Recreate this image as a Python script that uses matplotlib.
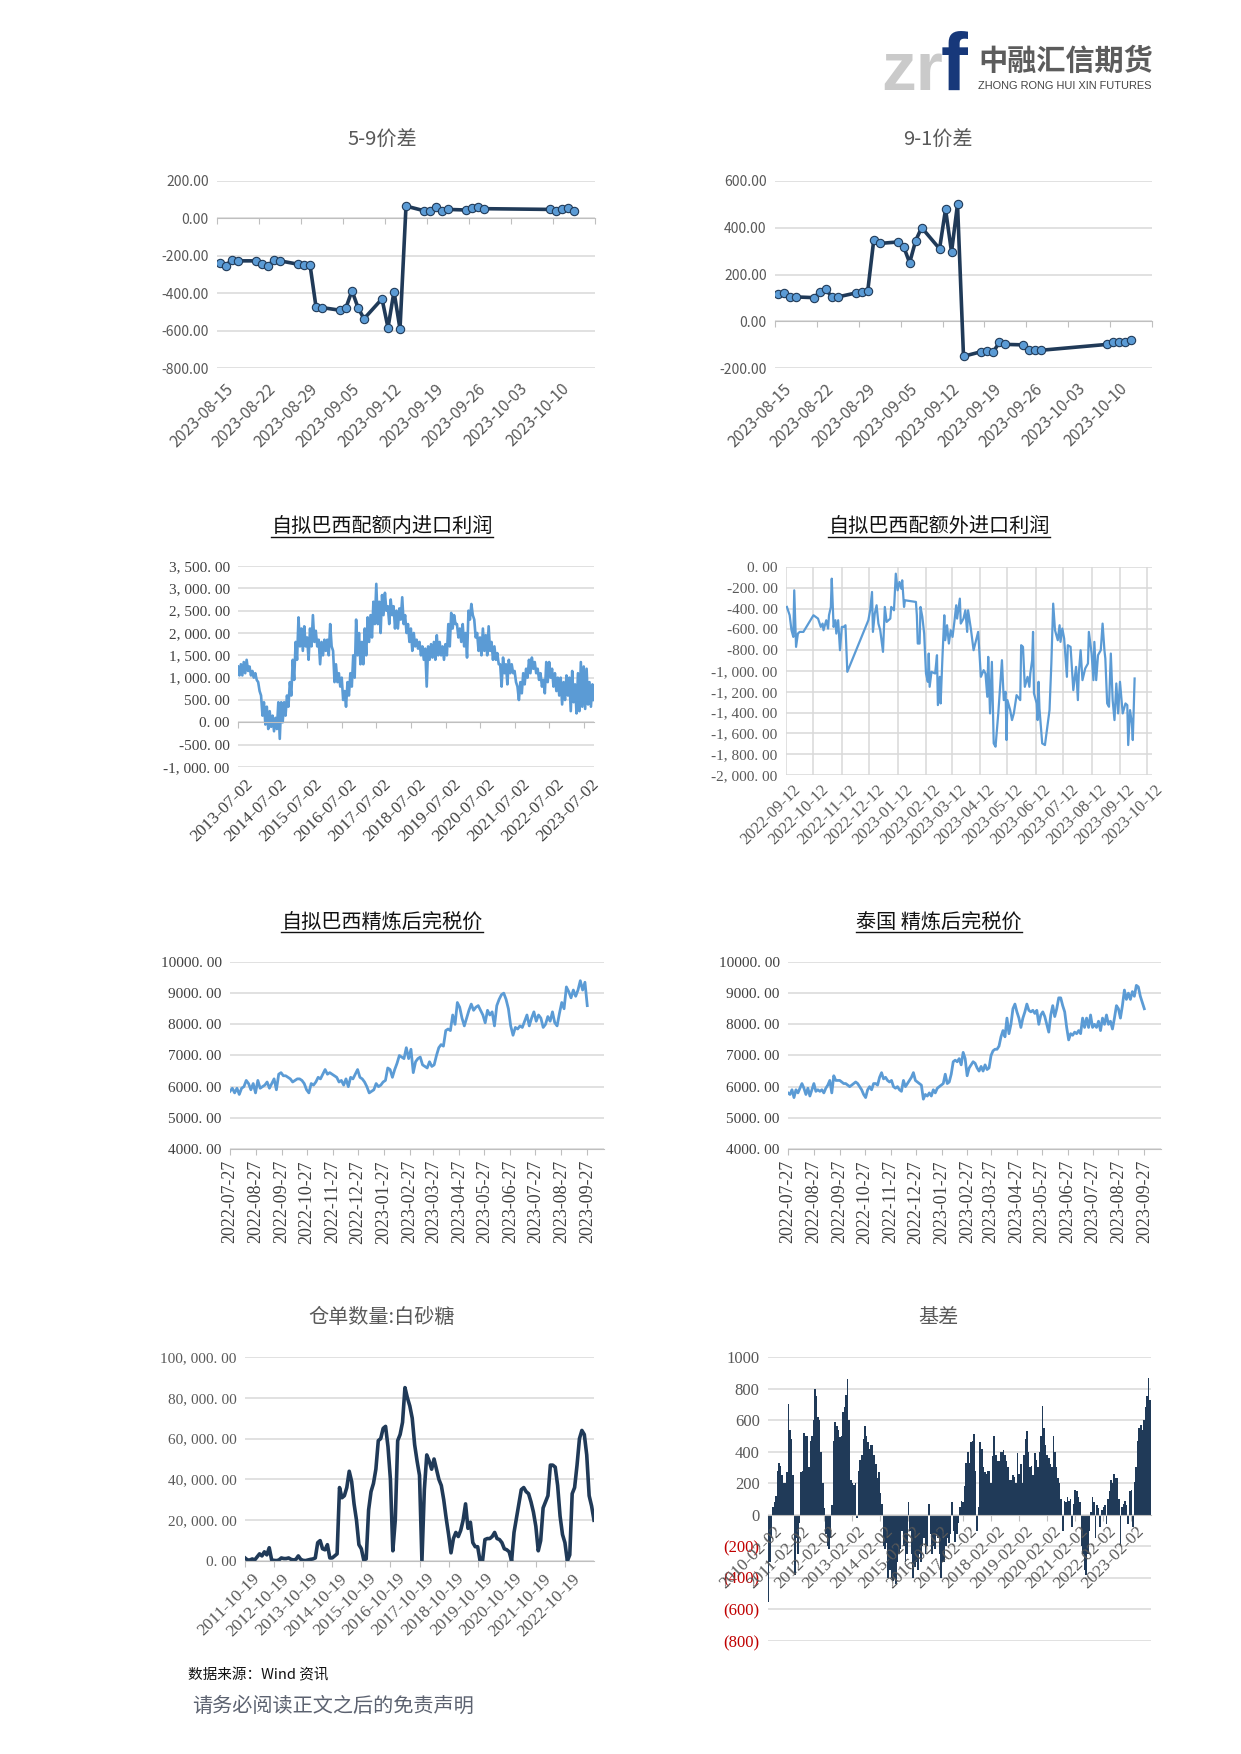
import numpy as np
import pandas as pd
import matplotlib
matplotlib.use('Agg')
import matplotlib.pyplot as plt
import matplotlib.dates as mdates
from matplotlib.lines import Line2D

plt.rcParams['font.family'] = ['Noto Sans CJK SC', 'DejaVu Sans']

# ---------------- data ----------------
spread_dates = ['2023-08-15', '2023-08-16', '2023-08-17', '2023-08-18',
                '2023-08-21', '2023-08-22', '2023-08-23', '2023-08-24', '2023-08-25',
                '2023-08-28', '2023-08-29', '2023-08-30', '2023-08-31', '2023-09-01',
                '2023-09-04', '2023-09-05', '2023-09-06', '2023-09-07', '2023-09-08',
                '2023-09-11', '2023-09-12', '2023-09-13', '2023-09-14', '2023-09-15',
                '2023-09-18', '2023-09-19', '2023-09-20', '2023-09-21', '2023-09-22',
                '2023-09-25', '2023-09-26', '2023-09-27', '2023-09-28',
                '2023-10-09', '2023-10-10', '2023-10-11', '2023-10-12', '2023-10-13']
spread_59 = [-237, -252, -220, -227, -227, -245, -255, -220, -227, -245, -248, -248, -473,
             -477, -491, -477, -387, -477, -537, -430, -584, -391, -591, 66, 41, 41, 62, 41,
             48, 45, 55, 62, 52, 48, 41, 48, 55, 41]
spread_91 = [116, 121, 104, 104, 101, 124, 136, 104, 104, 121, 127, 130, 347, 333, 339, 319,
             250, 344, 401, 310, 479, 296, 501, -150, -130, -127, -130, -90, -99, -101, -124,
             -124, -124, -99, -87, -87, -90, -79]
spread_ticks = ['2023-08-15', '2023-08-22', '2023-08-29', '2023-09-05', '2023-09-12',
                '2023-09-19', '2023-09-26', '2023-10-03', '2023-10-10']

# in-quota import profit, two readings (upper / lower edge of band) per month
quota_in_start, quota_in_end = '2013-07-02', '2023-10-13'
quota_in = [1250, 1050, 1300, 1050, 1350, 1100, 1400, 1150, 1250, 1050, 1150, 1000, 1100, 950,
            900, 700, 600, 150, 450, -50, 350, -150, 250, -100, 150, -200, 100, -150, 450, -370,
            450, 0, 450, 150, 600, 350, 900, 600, 1400, 950, 1800, 1400, 2350, 1700, 2100, 1600,
            2150, 1700, 1900, 1400, 2100, 1700, 2400, 1800, 2050, 1700, 1850, 1300, 1800, 1500,
            1850, 1600, 1850, 1500, 2200, 1700, 1600, 900, 1300, 900, 1100, 800, 1000, 500,
            700, 350, 900, 600, 1100, 800, 1500, 1000, 2300, 1500, 2000, 1300, 1800, 1300,
            2100, 1500, 2350, 1800, 2400, 1900, 2700, 2200, 3100, 2200, 2700, 2000, 2850, 2400,
            2900, 2500, 2600, 2200, 2750, 2400, 2600, 2100, 2500, 2100, 2550, 2300, 2800, 2200,
            2400, 2000, 2200, 1800, 2100, 1600, 2000, 1700, 1850, 1650, 1800, 1500, 1700, 1400,
            1650, 800, 1700, 1400, 1750, 1450, 1800, 1400, 1950, 1500, 1800, 1500, 1700, 1400,
            1750, 1500, 2200, 1700, 2450, 2100, 2400, 2200, 2200, 1900, 2100, 1800, 2200, 1700,
            2000, 1450, 2500, 2300, 2650, 2400, 2300, 1900, 2000, 1600, 1900, 1500, 2100, 1600,
            1950, 1500, 2150, 1600, 1800, 1400, 1700, 1400, 1550, 1300, 1300, 800, 1450, 1100,
            1300, 850, 1400, 1100, 1300, 1100, 1150, 900, 800, 500, 900, 650, 1100, 850,
            1200, 1000, 1400, 1100, 1450, 1200, 1350, 1100, 1200, 950, 1100, 800, 950, 650,
            1350, 900, 1350, 1000, 1200, 800, 1100, 700, 1000, 600, 1000, 400, 900, 500,
            1050, 600, 1000, 250, 1150, 450, 850, 200, 1100, 250, 1350, 350, 1250, 300,
            1200, 400, 900, 350, 850, 500]
quota_in_ticks = [f'{y}-07-02' for y in range(2013, 2024)]

# out-of-quota import profit: days after 2022-09-12 and values
quota_out_start = '2022-09-12'
quota_out_days = [1, 4, 6, 8, 9, 10, 11, 13, 15, 19, 30, 35, 38, 40, 41, 44, 46, 47, 49, 50,
                  52, 54, 55, 57, 59, 61, 63, 65, 67, 90, 92, 94, 95, 97, 99, 101, 103, 106,
                  108, 110, 114, 115, 118, 120, 122, 124, 126, 127, 129, 130, 142, 143, 144,
                  146, 147, 149, 151, 153, 155, 156, 157, 159, 163, 165, 166, 168, 169, 171,
                  173, 174, 176, 178, 180, 182, 184, 186, 187, 190, 191, 194, 196, 198, 199,
                  202, 205, 210, 213, 216, 218, 220, 221, 223, 225, 227, 229, 232, 236, 238,
                  240, 241, 242, 245, 247, 249, 252, 256, 257, 259, 261, 264, 266, 267, 269,
                  270, 271, 274, 275, 276, 277, 280, 283, 288, 290, 292, 294, 297, 299, 300,
                  302, 304, 307, 308, 311, 314, 317, 319, 320, 322, 324, 327, 330, 331, 334,
                  336, 337, 339, 341, 344, 346, 348, 349, 351, 353, 355, 357, 359, 361, 363,
                  365, 368, 371, 373, 374, 376, 378, 379, 381]
quota_out = [-384, -464, -608, -672, -224, -496, -768, -640, -624, -624, -464, -496, -576,
             -544, -608, -512, -592, -464, -384, -112, -576, -512, -640, -512, -800, -576,
             -576, -560, -1008, -512, -416, -240, -624, -448, -368, -544, -608, -816, -384,
             -528, -496, -384, -416, -64, -224, -144, -208, -128, -384, -320, -336, -464,
             -736, -736, -384, -480, -640, -1024, -1104, -832, -1152, -1008, -1024, -848,
             -1328, -1056, -1312, -864, -464, -704, -560, -736, -608, -672, -528, -368, -496,
             -304, -544, -496, -416, -624, -416, -592, -800, -624, -1056, -992, -1024, -1248,
             -864, -1408, -912, -1696, -1728, -1408, -896, -1280, -1200, -1664, -1280, -1376,
             -1472, -1408, -1232, -1280, -752, -768, -1152, -1056, -1152, -1024, -896, -624,
             -1216, -1312, -1472, -1104, -1360, -1696, -1712, -1376, -928, -352, -608, -704,
             -560, -720, -592, -688, -1056, -752, -768, -1184, -960, -1280, -1024, -800, -1088,
             -976, -928, -624, -832, -1088, -720, -1088, -848, -800, -544, -800, -880, -1312,
             -1344, -832, -1280, -1472, -1120, -1408, -1104, -1408, -1312, -1328, -1712, -1376,
             -1504, -1664, -1072]
quota_out_ticks = ['2022-09-12', '2022-10-12', '2022-11-12', '2022-12-12', '2023-01-12',
                   '2023-02-12', '2023-03-12', '2023-04-12', '2023-05-12', '2023-06-12',
                   '2023-07-12', '2023-08-12', '2023-09-12', '2023-10-12']

refined_start, refined_end = '2022-07-27', '2023-09-27'
brazil_refined = [5850, 5950, 5800, 5950, 5750, 5950, 6000, 6200, 6100, 5900, 6100, 5800, 6200,
                  5950, 6000, 6050, 6150, 5950, 6100, 6250, 5900, 6400, 6450, 6350, 6350, 6300,
                  6250, 6150, 6200, 6250, 6250, 6200, 6100, 5900, 5800, 6100, 6050, 6150, 6300,
                  6250, 6400, 6550, 6400, 6450, 6400, 6350, 6300, 6150, 6200, 6050, 6250, 6000,
                  6300, 6250, 6400, 6550, 6300, 6250, 6150, 6000, 5800, 5850, 5900, 6100, 6000,
                  6050, 6150, 6200, 6600, 6550, 6300, 6550, 6750, 7000, 6950, 6900, 7250, 6900,
                  7200, 6450, 6800, 6900, 6950, 6700, 6650, 6600, 6800, 6650, 6700, 7000, 7250,
                  7350, 7300, 7800, 7850, 7800, 8300, 8000, 8700, 8550, 8200, 7950, 8200, 8450,
                  8650, 8450, 8550, 8600, 8450, 8300, 8050, 8450, 8300, 8400, 7950, 8600, 8800,
                  8950, 9000, 8800, 8500, 7950, 7650, 7900, 7850, 7950, 7900, 8100, 8300, 7950,
                  8200, 8400, 8100, 8300, 8200, 7900, 8000, 8250, 8100, 8400, 8050, 7950, 8350,
                  8700, 8500, 9200, 9050, 8850, 9100, 8900, 9100, 9400, 9100, 9350, 8600]
thai_refined = [5800, 5750, 5900, 5650, 5900, 5800, 5950, 6100, 5950, 5750, 5950, 5700, 5900,
                6100, 5850, 5900, 5850, 5900, 5800, 5950, 6050, 6200, 5800, 6350, 6200, 6200,
                6200, 6150, 6100, 6100, 6050, 6000, 6050, 6100, 6150, 6100, 6000, 5900, 5750,
                5650, 5900, 6000, 5900, 6100, 6100, 6050, 6300, 6450, 6250, 6300, 6200, 6150,
                6200, 6000, 5950, 6000, 5900, 5850, 6200, 6000, 6100, 6200, 6300, 6450, 6200,
                6150, 6100, 6050, 5600, 5750, 5700, 5800, 5700, 5900, 5800, 5950, 6000, 6050,
                6100, 6400, 6100, 6150, 6400, 6800, 6850, 6800, 6900, 6700, 7100, 6900, 6350,
                6600, 6700, 6800, 6750, 6600, 6500, 6650, 6500, 6700, 6550, 6600, 7000, 7150,
                7200, 7200, 7300, 7600, 7800, 7600, 8200, 7700, 8000, 8500, 8650, 8400, 8200,
                7900, 8200, 8400, 8650, 8450, 8400, 8450, 8350, 8450, 8000, 8300, 8400, 8250,
                8000, 7750, 8300, 8600, 8250, 8500, 8850, 8850, 8600, 8400, 7900, 7500, 7700,
                7650, 7750, 7700, 7800, 7700, 8200, 7900, 8200, 7900, 8300, 7900, 8000, 7900,
                8100, 7800, 8200, 8000, 8300, 8000, 8100, 7850, 8200, 8600, 8500, 8200, 8600,
                9100, 8800, 9000, 8800, 9050, 8900, 9250, 9200, 8900, 8700, 8500]
refined_ticks = ['2022-07-27', '2022-08-27', '2022-09-27', '2022-10-27', '2022-11-27',
                 '2022-12-27', '2023-01-27', '2023-02-27', '2023-03-27', '2023-04-27',
                 '2023-05-27', '2023-06-27', '2023-07-27', '2023-08-27', '2023-09-27']

receipt_start, receipt_end = '2011-10-19', '2023-10-19'
receipts = [1500, 500, 500, 1000, 500, 2000, 3500, 2500, 4500, 3000, 6500, 500, 300, 200, 500,
            1500, 1200, 1200, 1500, 800, 500, 800, 2500, 800, 300, 200, 500, 800, 1000, 1500,
            9000, 10000, 6000, 5500, 8000, 1500, 1500, 2500, 3500, 36000, 31000, 32000, 36000,
            44000, 39000, 28000, 20000, 8000, 6000, 500, 1000, 25000, 34000, 38000, 45000,
            59000, 60000, 65000, 66000, 56000, 40000, 5000, 20000, 59000, 62000, 68000, 85000,
            80000, 76000, 70000, 57000, 49000, 42000, 0, 35000, 52000, 49000, 45000, 50000,
            45000, 40000, 37000, 30000, 21000, 13000, 4000, 11000, 14000, 12000, 15000, 20000,
            28000, 16000, 19000, 9000, 7000, 7000, 0, 0, 10500, 11000, 11000, 12000, 14000,
            11000, 10500, 9000, 6000, 5500, 4500, 0, 14000, 21000, 28000, 35000, 36000, 34000,
            33000, 29000, 24000, 17000, 5000, 10000, 26000, 29000, 32000, 47000, 47000, 46000,
            37000, 22000, 13000, 9000, 0, 3000, 33000, 36000, 47000, 60000, 64000, 62000,
            52000, 32000, 27000, 20000]
receipt_ticks = [f'{y}-10-19' for y in range(2011, 2023)]

basis_start, basis_end = '2010-02-02', '2023-10-13'
basis = [-550, -300, -150, 50, 80, 120, 280, 330, 310, 250, 200, 200, 270, 700, 540, 480, 250,
         -380, -150, -250, -50, 270, 280, 520, 500, 500, 300, 470, 500, 600, 800, 750, 620,
         600, 400, 200, 40, -120, -200, -220, -150, 60, 470, 590, 560, 540, 490, 500, 650,
         680, 760, 860, 600, 220, 200, 190, 200, -20, 280, 350, 380, 480, 560, 500, 460, 420,
         440, 440, 380, 320, 230, 270, 140, 70,
         -200, -220, -180, -400, -350, -400, -420, -400, -440, -300, -250, -220, -100, -200,
         -300, -250, 80, -100, -250, -400, -330, -300, -350, -250, -300, -200, -150, -250,
         -200, 70, -120, -250, -200, -220, -120, -150, -250, -400, -300, -300, -200, -150,
         -180, -120, 80, -100, -170, -120, -50, 50,
         90, 80, 180, 330, 400, 330, 460, 470, 510, 280, -100, 50, 460, 420, 300, 270, 260,
         280, 280, 200, 370, 500, 380, 340, 340, 400, 400, 410, 380, 340, 300, 220, 220, 250,
         240, 200, 390, 260, 320, 200, 380, 480, 530, 400, 300, 310, 250, 390, 350, 300, 400,
         500, 690, 550, 440, 380, 360, 320, 300, 500, 400, 300, 230, 200, 100, -100, 90, 80,
         110, 90, 100, -80, 70, 160, 150, 110, 80,
         -200, -250, -350, -380, -250, -100, 20,
         110, 80, -150, 60, 40, -80, 30, 50, 60, -60, 100, 150, 220, 200, 260, 230, 230, 100,
         -200, 50, 70, 90, 60, -60, 150, 160, -80, 210, 300, 470, 550, 570, 540, 600, 680,
         750, 870, 730]
basis_ticks = [f'{y}-02-02' for y in range(2010, 2024)]

# ---------------- layout ----------------
W, H = 1241, 1754
GRID = '#d9d9d9'
AXC = '#bfbfbf'
GRAY = '#595959'
NAVY = '#203a58'
BLUE = '#5b9bd5'
SERIF = 'Liberation Serif'

fig = plt.figure(figsize=(W / 100, H / 100), dpi=100)


def num(dates):
    return mdates.date2num(pd.to_datetime(dates))


def px_axes(x0, y0, x1, y1):
    return fig.add_axes([x0 / W, 1 - y1 / H, (x1 - x0) / W, (y1 - y0) / H])


def ftext(x, y, s, **kw):
    return fig.text(x / W, 1 - y / H, s, **kw)


def style(ax, lo, hi, step, fmt, family, size=10, color=GRAY):
    ticks = np.arange(lo, hi + step / 2, step)
    ax.set_ylim(lo, hi)
    ax.set_yticks(ticks, labels=[fmt(v) for v in ticks], fontfamily=family,
                  fontsize=size, color=color)
    ax.yaxis.grid(True, color=GRID, lw=1.1)
    ax.set_axisbelow(True)
    for s in ['top', 'right', 'left']:
        ax.spines[s].set_visible(False)
    ax.spines['bottom'].set_color(AXC)
    ax.tick_params(axis='y', length=0, pad=6)
    ax.tick_params(axis='x', length=4, color=AXC, labelbottom=False)


def date_labels(ax, xs, labels, family, size, color=GRAY, rot=45, y=0, coords=None,
                off=(4, -8)):
    coords = coords or ax.get_xaxis_transform()
    for x, s in zip(xs, labels):
        if rot == 90:
            ha, va = 'right', 'center'
        else:
            ha, va = 'right', 'top'
        ax.annotate(s, xy=(x, y), xycoords=coords, xytext=off, textcoords='offset points',
                    rotation=rot, ha=ha, va=va, rotation_mode='anchor', fontsize=size,
                    fontfamily=family, color=color, annotation_clip=False, zorder=5)


def dec2(v):
    return f'{v:.2f}'


def cn_comma(v):
    return f'{v:,.2f}'.replace(',', ', ').replace('.', '. ')


def cn_plain(v):
    return f'{v:.2f}'.replace('.', '. ')


underlined = []


def title(x, y, s, color, underline=False):
    t = ftext(x, y, s, ha='center', va='center', fontsize=14.5, color=color)
    if underline:
        underlined.append(t)


# ---- 5-9 and 9-1 spreads ----
sd = num(spread_dates)
st = num(spread_ticks) - 0.5
for box, vals, lo, hi, ttl, tx in [((217, 181, 595, 368), spread_59, -800, 200, '5-9价差', 382),
                                   ((775, 181, 1152, 368), spread_91, -200, 600, '9-1价差', 938)]:
    ax = px_axes(*box)
    style(ax, lo, hi, 200, dec2, 'Noto Sans CJK SC', size=10)
    ax.plot(sd, vals, color=NAVY, lw=2.6, marker='o', ms=6, mfc=BLUE, mec=NAVY, mew=0.8,
            zorder=3)
    ax.set_xlim(st[0], st[0] + 63)
    ax.set_xticks(list(st) + [st[-1] + 7])
    ax.spines['bottom'].set_position(('data', 0))
    date_labels(ax, st, spread_ticks, 'Noto Sans CJK SC', 11.5, off=(6, -9))
    title(tx, 140, ttl, GRAY)

# ---- in-quota import profit ----
ax = px_axes(238, 566, 594, 767)
style(ax, -1000, 3500, 500, cn_comma, SERIF, size=11, color='#404040')
qd = np.linspace(num([quota_in_start])[0], num([quota_in_end])[0], len(quota_in))
ax.plot(qd, quota_in, color=BLUE, lw=1.9)
qt = num(quota_in_ticks)
ax.set_xlim(qt[0], num(['2023-10-15'])[0])
ax.set_xticks(qt)
ax.spines['bottom'].set_position(('data', 0))
date_labels(ax, qt, quota_in_ticks, SERIF, 12.5, color='#404040', off=(5, -7))
title(382, 527, '自拟巴西配额内进口利润', '#111111', underline=True)

# ---- out-of-quota import profit ----
ax = px_axes(786, 567, 1152, 775)
style(ax, -2000, 0, 200, cn_comma, SERIF, size=11)
od = num([quota_out_start])[0] + np.array(quota_out_days)
ax.plot(od, quota_out, color=BLUE, lw=1.6)
ot = num(quota_out_ticks)
ax.set_xlim(ot[0], num(['2023-10-17'])[0])
ax.set_xticks(ot)
ax.xaxis.grid(True, color=GRID, lw=1.1)
ax.spines['bottom'].set_visible(False)
ax.tick_params(axis='x', length=0)
date_labels(ax, ot, quota_out_ticks, SERIF, 12, off=(5, -5))
title(939, 527, '自拟巴西配额外进口利润', '#111111', underline=True)

# ---- refined, tax-paid prices ----
rt = num(refined_ticks)
for box, vals, ttl, tx in [((230, 962, 604, 1149), brazil_refined, '自拟巴西精炼后完税价', 382),
                           ((788, 962, 1161, 1149), thai_refined, '泰国 精炼后完税价', 939)]:
    ax = px_axes(*box)
    style(ax, 4000, 10000, 1000, cn_plain, SERIF, size=11, color='#404040')
    rd = np.linspace(rt[0], rt[-1], len(vals))
    ax.plot(rd, vals, color=BLUE, lw=2.0)
    ax.set_xlim(rt[0], num(['2023-10-17'])[0])
    ax.set_xticks(rt)
    date_labels(ax, rt, refined_ticks, SERIF, 13, color='#404040', rot=90, off=(0, -8))
    title(tx, 923, ttl, '#111111', underline=True)

# ---- warehouse receipts ----
ax = px_axes(245, 1357, 594, 1561)
style(ax, 0, 100000, 20000, cn_comma, SERIF, size=11)
wd = np.linspace(num([receipt_start])[0], num([receipt_end])[0], len(receipts))
ax.plot(wd, receipts, color=NAVY, lw=2.6)
wt = num(receipt_ticks)
ax.set_xlim(wt[0], num([receipt_end])[0])
ax.set_xticks(wt)
date_labels(ax, wt, receipt_ticks, SERIF, 12.5, off=(5, -7))
title(382, 1317, '仓单数量:白砂糖', GRAY)

# ---- basis ----
ax = px_axes(768, 1357, 1151, 1641)
style(ax, -800, 1000, 200, lambda v: f'{v:.0f}' if v >= 0 else f'({-v:.0f})', SERIF, size=12)
for lab, v in zip(ax.get_yticklabels(), np.arange(-800, 1001, 200)):
    if v < 0:
        lab.set_color('#c00000')
bd = np.linspace(num([basis_start])[0], num([basis_end])[0], len(basis))
ax.bar(bd, basis, width=bd[1] - bd[0], color=NAVY, linewidth=0)
bt = num(basis_ticks)
ax.set_xlim(bt[0] - 3, num(['2023-10-25'])[0])
ax.set_xticks(bt)
ax.spines['bottom'].set_position(('data', 0))
date_labels(ax, bt, basis_ticks, SERIF, 12.5, y=0, coords='data', off=(4, -6))
title(938, 1317, '基差', GRAY)

# ---- footer ----
ftext(188, 1675, '数据来源：Wind 资讯', fontsize=10.5, color='#111111', va='center')
ftext(192, 1706, '请务必阅读正文之后的免责声明', fontsize=14.5, color='#5c6270', va='center')

# ---- logo ----
ftext(881, 90, 'zr', fontsize=50, fontweight='bold', color='#cacaca',
      family='Liberation Sans', va='baseline')
ftext(941, 90, 'f', fontsize=58, fontweight='bold', color='#17387a',
      family='Liberation Sans', va='baseline')
ftext(978, 61, '中融汇信期货', fontsize=21, fontweight='bold', color='#5c5c5c', va='center')
ftext(978, 86, 'ZHONG RONG HUI XIN FUTURES', fontsize=7.9, color='#444444',
      family='Liberation Sans', va='center')

# underline the serif-style titles
fig.canvas.draw()
for t in underlined:
    bb = t.get_window_extent()
    y = (bb.y0 + 1) / H
    fig.add_artist(Line2D([bb.x0 / W, bb.x1 / W], [y, y], transform=fig.transFigure,
                          color=t.get_color(), lw=1.0))

fig.savefig('out.png', dpi=100)
